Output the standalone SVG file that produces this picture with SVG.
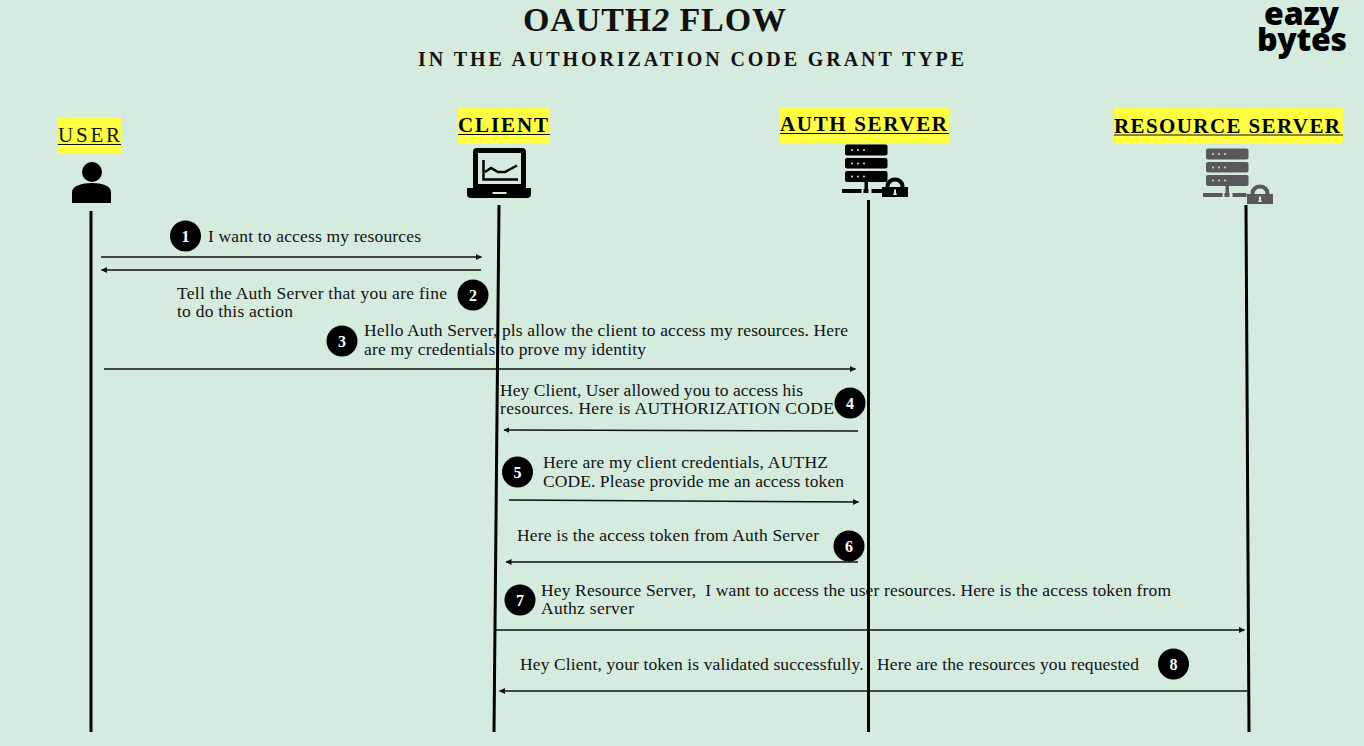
<svg xmlns="http://www.w3.org/2000/svg" xmlns:xlink="http://www.w3.org/1999/xlink" width="1364" height="746" viewBox="0 0 1364 746">
<style>
text{font-family:"Liberation Serif","Times New Roman",serif;fill:#111}
.msg{font-size:17.5px}
.head{font-size:21px;font-weight:bold;fill:#000}
.hl{fill:#ffff41}
.ul{stroke:#111;stroke-width:1.2;fill:none}
.life{stroke:#000;stroke-width:3;fill:none}
.arrow{stroke:#111;stroke-width:1.5;fill:none}
.fwd{marker-end:url(#tip)}
.badge circle{fill:#000}
.badge text{font-size:16px;font-weight:bold;fill:#fff;text-anchor:middle}
.logo{font-family:"Open Sans","Noto Sans",sans-serif;font-size:32px;font-weight:800;fill:#000}
</style>
<defs>
<marker id="tip" viewBox="0 0 6 6" refX="5.5" refY="3" markerWidth="6" markerHeight="6" markerUnits="userSpaceOnUse" orient="auto"><path d="M0 0L6 3L0 6z" fill="#111"/></marker>
<g id="server">
<rect x="0" y="0" width="42.500" height="11" rx="2"/>
<rect x="0" y="13.500" width="42.500" height="10.500" rx="2"/>
<rect x="0" y="26.500" width="42.500" height="11" rx="2"/>
<g fill="#d5ebde"><circle cx="7" cy="5.500" r="1"/><circle cx="13" cy="5.500" r="1"/><circle cx="19" cy="5.500" r="1"/><circle cx="7" cy="19" r="1"/><circle cx="13" cy="19" r="1"/><circle cx="19" cy="19" r="1"/><circle cx="7" cy="32" r="1"/><circle cx="13" cy="32" r="1"/><circle cx="19" cy="32" r="1"/></g>
<rect x="19.500" y="37" width="3.500" height="8"/>
<rect x="-3" y="44.500" width="19.500" height="4"/><rect x="18.500" y="44.500" width="5" height="4"/><rect x="26.500" y="44.500" width="14" height="4"/>
</g>
<g id="lock">
<path d="M0 19V9H3.500V8A9.500 8.500 0 0 1 22.500 8V9H26V19z M7.500 9H18.500V8.500A5.500 5 0 0 0 7.500 8.500z" fill-rule="evenodd"/>
<path d="M12 11.500H14V14.500L15 17H11L12 14.500z" fill="#d5ebde"/>
</g>
</defs>
<rect width="1364" height="746" fill="#d5ebde"/>
<g id="title">
<text x="523" y="30.500" font-size="34" font-weight="bold" textLength="263" fill="#111">OAUTH<tspan font-style="italic">2</tspan> FLOW</text>
<text x="418" y="66" font-size="20" font-weight="bold" textLength="546">IN THE AUTHORIZATION CODE GRANT TYPE</text>
</g>
<g id="logo"><text class="logo" x="1264" y="24.500" textLength="75">eazy</text><text class="logo" x="1257" y="51" textLength="90">bytes</text></g>
<g id="node-user">
<rect class="hl" x="58" y="118" width="63" height="36"/>
<text x="58" y="142" font-size="21" textLength="62">USER</text>
<path class="ul" d="M58 144.500H121"/>
<circle cx="92" cy="172" r="10"/>
<path d="M72 203V192C72 186 82 183 92 183C102 183 111 186 111 192V203z"/>
</g>
<g id="node-client">
<rect class="hl" x="458" y="108" width="92" height="36"/>
<text class="head" x="458" y="132" textLength="90">CLIENT</text>
<path class="ul" d="M458 134.500H550"/>
<path fill-rule="evenodd" d="M477 148H522Q526 148 526 152V188H473V152Q473 148 477 148zM478 153V184H521V153z"/>
<path d="M467 188H531V194Q531 198 527 198H471Q467 198 467 194z"/>
<rect x="492.500" y="192" width="14" height="2" fill="#d5ebde"/>
<path d="M483.500 160V179.500H518" fill="none" stroke="#000" stroke-width="2.500"/>
<path d="M485 172L491 168L498 172L505 172L517 165.500" fill="none" stroke="#000" stroke-width="2.500"/>
</g>
<g id="node-auth-server">
<rect class="hl" x="780" y="107" width="169" height="36"/>
<text class="head" x="780" y="131" textLength="167">AUTH SERVER</text>
<path class="ul" d="M780 133.500H949"/>
<use xlink:href="#server" href="#server" x="845" y="144.500" fill="#000"/>
<use xlink:href="#lock" href="#lock" x="882" y="178" fill="#000"/>
</g>
<g id="node-resource-server">
<rect class="hl" x="1114" y="108" width="229" height="36"/>
<text class="head" x="1114" y="133" textLength="226">RESOURCE SERVER</text>
<path class="ul" d="M1114 135H1343"/>
<use xlink:href="#server" href="#server" x="1206" y="148.500" fill="#595959"/>
<use xlink:href="#lock" href="#lock" x="1247" y="185" fill="#595959"/>
</g>
<g id="labels">
<text class="msg" x="208" y="242" textLength="213">I want to access my resources</text>
<text class="msg" x="177" y="299" textLength="270">Tell the Auth Server that you are fine</text>
<text class="msg" x="177" y="317" textLength="116">to do this action</text>
<text class="msg" x="364" y="336" textLength="484">Hello Auth Server, pls allow the client to access my resources. Here</text>
<text class="msg" x="364" y="355" textLength="282">are my credentials to prove my identity</text>
<text class="msg" x="500" y="396" textLength="303">Hey Client, User allowed you to access his</text>
<text class="msg" x="500" y="414" textLength="334">resources. Here is AUTHORIZATION CODE</text>
<text class="msg" x="543" y="468" textLength="285">Here are my client credentials, AUTHZ</text>
<text class="msg" x="543" y="487" textLength="301">CODE. Please provide me an access token</text>
<text class="msg" x="517" y="541" textLength="302">Here is the access token from Auth Server</text>
<text class="msg" x="541" y="596" textLength="630" xml:space="preserve">Hey Resource Server,  I want to access the user resources. Here is the access token from</text>
<text class="msg" x="541" y="614" textLength="93">Authz server</text>
<text class="msg" x="520" y="670" textLength="619" xml:space="preserve">Hey Client, your token is validated successfully.   Here are the resources you requested</text>
</g>
<g id="connectors">
<path class="life" d="M91 211V732"/>
<path class="life" d="M499 205L494 732"/>
<path class="life" d="M868.500 200V732"/>
<path class="life" d="M1246 205L1249 732"/>
<path class="arrow fwd" d="M101 257H481.500"/>
<path class="arrow fwd" d="M481 270H101.500"/>
<path class="arrow fwd" d="M104 369H855.500"/>
<path class="arrow fwd" d="M858 431L504 430"/>
<path class="arrow fwd" d="M509 500L858.500 502"/>
<path class="arrow fwd" d="M858 562H506"/>
<path class="arrow fwd" d="M494 630H1244.500"/>
<path class="arrow fwd" d="M1247 691H499.500"/>
</g>
<g id="badge-1" class="badge"><circle cx="185.500" cy="236" r="15.500"/><text x="185.500" y="242">1</text></g>
<g id="badge-2" class="badge"><circle cx="473" cy="295" r="15.500"/><text x="473" y="301">2</text></g>
<g id="badge-3" class="badge"><circle cx="342" cy="341" r="15.500"/><text x="342" y="347">3</text></g>
<g id="badge-4" class="badge"><circle cx="850" cy="403" r="15.500"/><text x="850" y="409">4</text></g>
<g id="badge-5" class="badge"><circle cx="517.500" cy="472" r="15.500"/><text x="517.500" y="478">5</text></g>
<g id="badge-6" class="badge"><circle cx="849" cy="546" r="15.500"/><text x="849" y="552">6</text></g>
<g id="badge-7" class="badge"><circle cx="520" cy="600" r="15.500"/><text x="520" y="606">7</text></g>
<g id="badge-8" class="badge"><circle cx="1173.500" cy="664" r="15.500"/><text x="1173.500" y="670">8</text></g>
</svg>
